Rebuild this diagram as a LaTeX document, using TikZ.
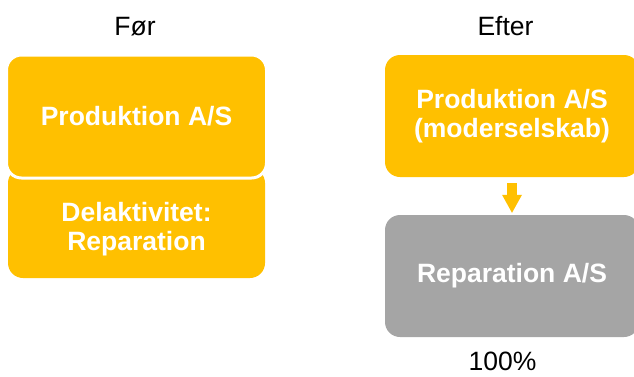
\documentclass[tikz,border=0pt]{standalone}
\usepackage{fontspec}
\setmainfont{Liberation Sans}
\usetikzlibrary{arrows.meta}
\definecolor{gold}{HTML}{FFC000}
\definecolor{stone}{HTML}{A5A5A5}

\begin{document}
\begin{tikzpicture}[x=1pt,y=-1pt,
  block/.style={rectangle, rounded corners=15pt, inner sep=0pt, text=white,
    font=\fontsize{26.5}{29}\selectfont\bfseries, align=center},
  caption/.style={inner sep=0pt, font=\fontsize{26.5}{30}\selectfont, text=black},
  link/.style={gold, line width=10pt,
    -{Triangle[width=20pt, length=18pt, line width=0pt]}}]
\useasboundingbox (0,0) rectangle (634,376);

% before: one company with a sub-activity
\node[block, fill=gold, minimum width=257pt, minimum height=110pt]
  (partbox) at (136.5,223) {};
\node[block] (parttext) at (136.5,229) {Delaktivitet:\\Reparation};
\node[block, fill=gold, draw=white, line width=3pt,
  minimum width=260pt, minimum height=123pt]
  (whole) at (136.5,116.5) {Produktion A/S};

% after: parent company owning a subsidiary
\node[block, fill=gold, minimum width=254pt, minimum height=122pt]
  (parent) at (512,116) {Produktion A/S\\(moderselskab)};
\node[block, fill=stone, minimum width=254pt, minimum height=122pt]
  (child) at (512,276) {Reparation A/S};
\draw[link] ([yshift=-6pt]parent.south) -- ([yshift=2pt]child.north);

% headings and ownership share
\node[caption, anchor=base] (before) at (135,35) {Før};
\node[caption, anchor=base] (afterhead) at (505.5,35) {Efter};
\node[caption, anchor=base] (share) at (502.5,370) {100\%};
\end{tikzpicture}
\end{document}
